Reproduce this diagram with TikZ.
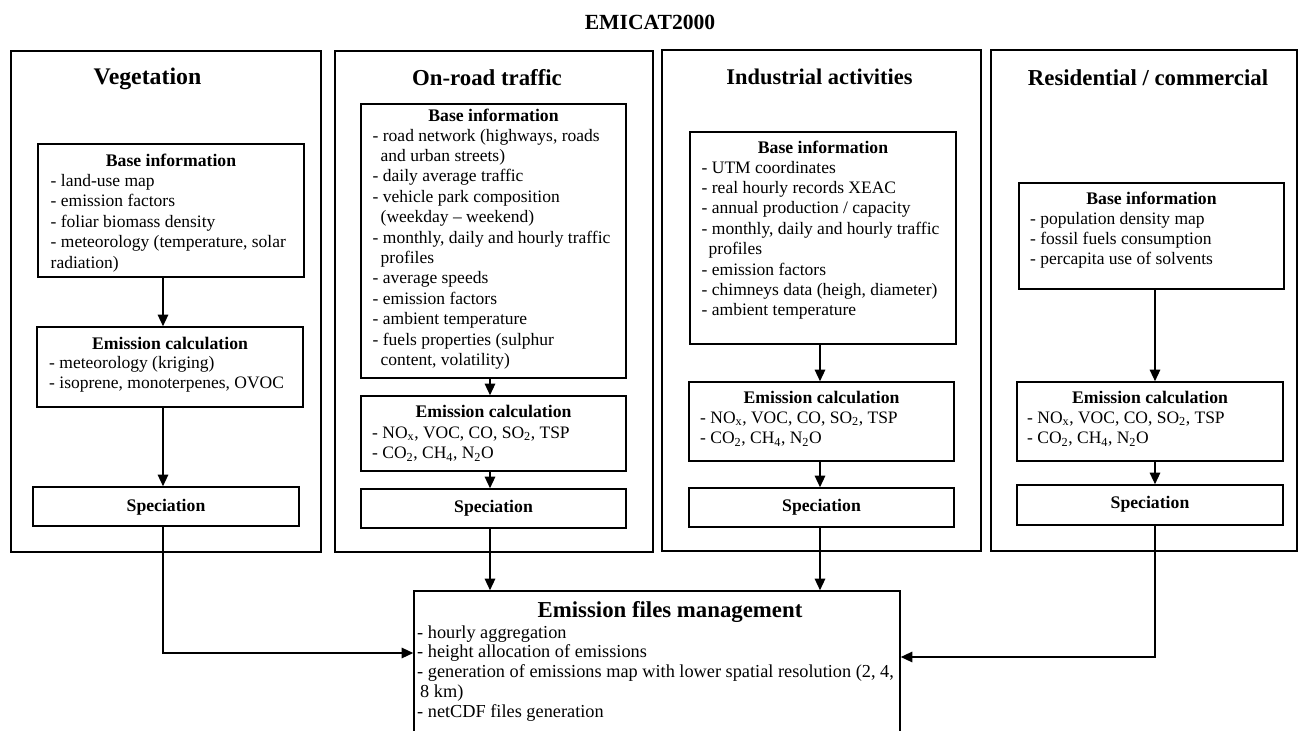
\documentclass[tikz,border=0pt]{standalone}
\usepackage{fontspec}
\setmainfont{Liberation Serif}
\usetikzlibrary{arrows.meta}
\begin{document}
\begin{tikzpicture}[x=1pt,y=-1pt,
  boxst/.style={draw, line width=1.6pt, inner sep=0pt},
  headtxt/.style={anchor=base, inner sep=0pt, font=\fontsize{17.7}{20.4}\selectfont\bfseries},
  itemtxt/.style={anchor=north west, align=left, inner sep=0pt, font=\fontsize{17.5}{20.4}\selectfont},
  coltitle/.style={anchor=base, inner sep=0pt, font=\fontsize{22.8}{26}\selectfont\bfseries},
  conn/.style={-{Triangle[length=11.5pt,width=10.5pt]}, line width=1.3pt}]
\useasboundingbox (0,0) rectangle (1299,731);
\clip (0,0) rectangle (1299,731);

% main title
\node[coltitle, font=\fontsize{21.6}{24}\selectfont\bfseries] (title) at (650,29) {EMICAT2000};

% column frames
\node[boxst, minimum width=310pt, minimum height=501pt] (vcol) at (166,301.5) {};
\node[boxst, minimum width=318pt, minimum height=501pt] (ocol) at (494,301.5) {};
\node[boxst, minimum width=319pt, minimum height=501pt] (icol) at (821.5,300.5) {};
\node[boxst, minimum width=306pt, minimum height=501pt] (rcol) at (1144,300.5) {};

\node[coltitle, font=\fontsize{23.8}{26}\selectfont\bfseries] (vtitle) at (147.5,84) {Vegetation};
\node[coltitle] (otitle) at (487,85) {On-road traffic};
\node[coltitle, font=\fontsize{22.4}{26}\selectfont\bfseries] (ititle) at (819.5,84) {Industrial activities};
\node[coltitle] (rtitle) at (1148,85) {Residential / commercial};

% ---------------- Vegetation
\node[boxst, minimum width=266pt, minimum height=133pt] (vb) at (171,210.5) {};
\node[headtxt] (vbh) at (171,166) {Base information};
\node[itemtxt] (vbi) at (50.5,172) {\strut- land-use map\\- emission factors\\- foliar biomass density\\- meteorology (temperature, solar\\radiation)};

\node[boxst, minimum width=266pt, minimum height=80pt] (vc) at (170,367) {};
\node[headtxt] (vch) at (170,349.5) {Emission calculation};
\node[itemtxt] (vci) at (49,354) {\strut- meteorology (kriging)\\- isoprene, monoterpenes, OVOC};

\node[boxst, minimum width=266pt, minimum height=39pt] (vs) at (166,506.5) {};
\node[headtxt] (vsh) at (166,511) {Speciation};

% ---------------- On-road traffic
\node[boxst, minimum width=265pt, minimum height=274pt] (ob) at (493.5,241) {};
\node[headtxt] (obh) at (493.5,121.5) {Base information};
\node[itemtxt] (obi) at (372.5,126.7) {\strut- road network (highways, roads\\\hspace*{8pt}and urban streets)\\- daily average traffic\\- vehicle park composition\\\hspace*{8pt}(weekday – weekend)\\- monthly, daily and hourly traffic\\\hspace*{8pt}profiles\\- average speeds\\- emission factors\\- ambient temperature\\- fuels properties (sulphur\\\hspace*{8pt}content, volatility)};

\node[boxst, minimum width=265pt, minimum height=75pt] (oc) at (493.5,433.5) {};
\node[headtxt] (och) at (493.5,417.5) {Emission calculation};
\node[itemtxt] (oci) at (372,423.7) {\strut- NO\textsubscript{x}, VOC, CO, SO\textsubscript{2}, TSP\\- CO\textsubscript{2}, CH\textsubscript{4}, N\textsubscript{2}O};

\node[boxst, minimum width=265pt, minimum height=39pt] (os) at (493.5,508.5) {};
\node[headtxt] (osh) at (493.5,512.5) {Speciation};

% ---------------- Industrial activities
\node[boxst, minimum width=266pt, minimum height=212pt] (ib) at (823,238) {};
\node[headtxt] (ibh) at (823,153.5) {Base information};
\node[itemtxt] (ibi) at (701.5,158.7) {\strut- UTM coordinates\\- real hourly records XEAC\\- annual production / capacity\\- monthly, daily and hourly traffic\\\hspace*{7pt}profiles\\- emission factors\\- chimneys data (heigh, diameter)\\- ambient temperature};

\node[boxst, minimum width=265pt, minimum height=79pt] (ic) at (821.5,421.5) {};
\node[headtxt] (ich) at (821.5,403.5) {Emission calculation};
\node[itemtxt] (ici) at (700,408.7) {\strut- NO\textsubscript{x}, VOC, CO, SO\textsubscript{2}, TSP\\- CO\textsubscript{2}, CH\textsubscript{4}, N\textsubscript{2}O};

\node[boxst, minimum width=265pt, minimum height=39pt] (is) at (821.5,507.5) {};
\node[headtxt] (ish) at (821.5,511.5) {Speciation};

% ---------------- Residential / commercial
\node[boxst, minimum width=265pt, minimum height=106pt] (rb) at (1151.5,236) {};
\node[headtxt] (rbh) at (1151.5,204.5) {Base information};
\node[itemtxt] (rbi) at (1030,209.7) {\strut- population density map\\- fossil fuels consumption\\- percapita use of solvents};

\node[boxst, minimum width=266pt, minimum height=79pt] (rc) at (1150,421.5) {};
\node[headtxt] (rch) at (1150,403.5) {Emission calculation};
\node[itemtxt] (rci) at (1027,408.7) {\strut- NO\textsubscript{x}, VOC, CO, SO\textsubscript{2}, TSP\\- CO\textsubscript{2}, CH\textsubscript{4}, N\textsubscript{2}O};

\node[boxst, minimum width=266pt, minimum height=40pt] (rs) at (1150,505) {};
\node[headtxt] (rsh) at (1150,508.5) {Speciation};

% ---------------- Emission files management
\node[boxst, minimum width=486pt, minimum height=160pt] (efm) at (657,671) {};
\node[coltitle] (efmh) at (670,617) {Emission files management};
\node[itemtxt, font=\fontsize{18.3}{19.75}\selectfont] (efmi) at (417,624.2) {\strut- hourly aggregation\\- height allocation of emissions\\- generation of emissions map with lower spatial resolution (2, 4,\\\hspace*{3pt}8 km)\\- netCDF files generation};

% ---------------- connectors
\coordinate (vx) at (163,0);
\coordinate (ox) at (490,0);
\coordinate (ix) at (820,0);
\coordinate (rx) at (1155,0);
\coordinate (vj) at (163,653);
\coordinate (rj) at (1155,657);

\draw[conn] (vb.south -| vx) -- (vc.north -| vx);
\draw[conn] (vc.south -| vx) -- (vs.north -| vx);
\draw[conn] (vs.south -| vj) |- (efm.west |- vj);

\draw[conn] (ob.south -| ox) -- (oc.north -| ox);
\draw[conn] (oc.south -| ox) -- (os.north -| ox);
\draw[conn] (os.south -| ox) -- (efm.north -| ox);

\draw[conn] (ib.south -| ix) -- (ic.north -| ix);
\draw[conn] (ic.south -| ix) -- (is.north -| ix);
\draw[conn] (is.south -| ix) -- (efm.north -| ix);

\draw[conn] (rb.south -| rx) -- (rc.north -| rx);
\draw[conn] (rc.south -| rx) -- (rs.north -| rx);
\draw[conn] (rs.south -| rj) |- (efm.east |- rj);
\end{tikzpicture}
\end{document}
